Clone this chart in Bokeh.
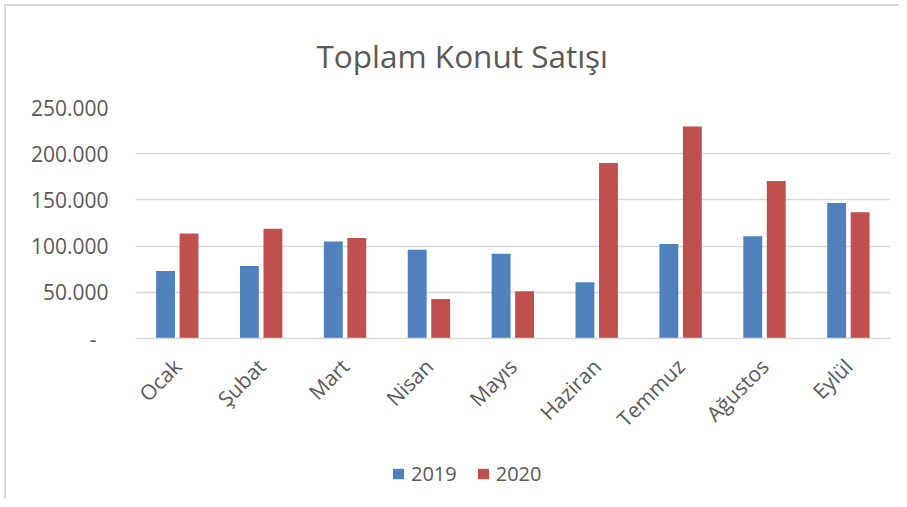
import math
from bokeh.plotting import figure
from bokeh.layouts import column
from bokeh.models import ColumnDataSource, FactorRange, FixedTicker, Legend, LegendItem
from bokeh.transform import dodge
from bokeh.embed import file_html
from bokeh.resources import INLINE

months = ["Ocak", "Şubat", "Mart", "Nisan", "Mayıs", "Haziran", "Temmuz", "Ağustos", "Eylül"]
sales_2019 = [72937, 78514, 105084, 96149, 91791, 60821, 102357, 110539, 146575]
sales_2020 = [113615, 118753, 108670, 42783, 51111, 190012, 229357, 170357, 136759]
series_names = ["2019", "2020"]
y_ticks = [0, 50000, 100000, 150000, 200000, 250000]
y_tick_labels = ["-\u2007", "50.000", "100.000", "150.000", "200.000", "250.000"]
title_text = "Toplam Konut Satışı"

BLUE = "#4F81BD"
RED = "#C0504D"
GRAY_TXT = "#595959"
GRID = "#D9D9D9"
FONT = "Open Sans"

source = ColumnDataSource(dict(month=months, y2019=sales_2019, y2020=sales_2020))

p = figure(
    x_range=FactorRange(*months, range_padding=0),
    y_range=(0, 250000),
    width=899, height=450,
    output_backend="svg", toolbar_location=None,
    min_border_left=135, min_border_right=9,
    min_border_top=105, min_border_bottom=112,
)
p.background_fill_color = "white"
p.border_fill_alpha = 0
p.outline_line_color = None

p.vbar(x=dodge("month", -0.142, range=p.x_range), top="y2019", width=0.225,
       source=source, fill_color=BLUE, line_color=None)
p.vbar(x=dodge("month", 0.138, range=p.x_range), top="y2020", width=0.225,
       source=source, fill_color=RED, line_color=None)

# title
p.title.text = title_text
p.title.text_font = FONT
p.title.text_font_size = "31.5px"
p.title.text_font_style = "normal"
p.title.text_color = GRAY_TXT
p.title.align = "left"
p.title.offset = 181
p.title.standoff = 62

# y axis
yax = p.yaxis[0]
yax.ticker = FixedTicker(ticks=y_ticks)
yax.major_label_overrides = {t: l for t, l in zip(y_ticks, y_tick_labels)}
yax.axis_line_color = None
yax.major_tick_line_color = None
yax.minor_tick_line_color = None
yax.major_tick_out = 0
yax.major_label_standoff = 27
yax.major_label_text_font = FONT
yax.major_label_text_font_size = "21px"
yax.major_label_text_color = GRAY_TXT

# x axis
xax = p.xaxis[0]
xax.axis_line_color = GRID
xax.axis_line_width = 1.5
xax.major_tick_line_color = None
xax.minor_tick_line_color = None
xax.major_tick_out = 0
xax.major_label_orientation = math.pi / 4
xax.major_label_standoff = 24
xax.major_label_text_font = FONT
xax.major_label_text_font_size = "21px"
xax.major_label_text_color = GRAY_TXT

p.xgrid.grid_line_color = None
p.ygrid.grid_line_color = GRID
p.ygrid.grid_line_width = 1.5
p.ygrid.ticker = FixedTicker(ticks=y_ticks)

# legend strip below the chart (its zero-width bars lie outside its visible range)
p2 = figure(
    x_range=FactorRange(*months, range_padding=0), y_range=(-2, -1),
    width=899, height=49,
    output_backend="svg", toolbar_location=None,
    x_axis_type=None, y_axis_type=None,
    min_border=0,
)
p2.background_fill_alpha = 0
p2.border_fill_alpha = 0
p2.outline_line_color = None
p2.grid.grid_line_color = None
l1 = p2.vbar(x="month", top="y2019", width=0, source=source,
             fill_color=BLUE, line_color=None)
l2 = p2.vbar(x="month", top="y2020", width=0, source=source,
             fill_color=RED, line_color=None)

legend = Legend(
    items=[LegendItem(label=series_names[0], renderers=[l1]),
           LegendItem(label=series_names[1], renderers=[l2])],
    orientation="horizontal",
    location=(256, 12),
    glyph_width=14, glyph_height=13,
    label_standoff=6, spacing=19,
    padding=0, margin=0,
    border_line_color=None, background_fill_alpha=0,
    label_text_font=FONT, label_text_font_size="20px", label_text_color=GRAY_TXT,
)
p2.add_layout(legend)

layout = column(p, p2, spacing=0)
layout.styles = {
    "background": "linear-gradient(#D9D9D9,#D9D9D9) 4px 4px / 2px 100% no-repeat, "
                  "linear-gradient(#D9D9D9,#D9D9D9) 4px 4px / 100% 2px no-repeat, white"
}

open("out.html", "w").write(file_html(layout, INLINE))
